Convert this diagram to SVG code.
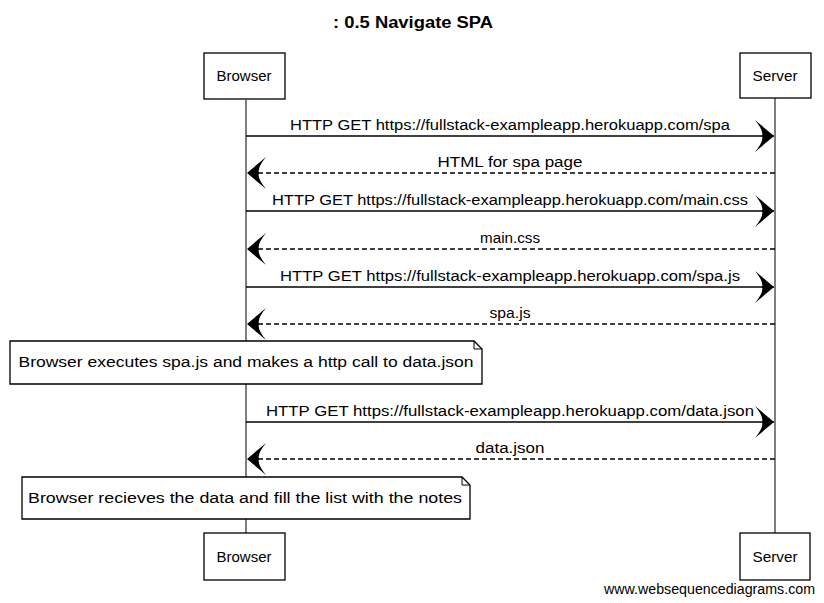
<svg xmlns="http://www.w3.org/2000/svg" width="824" height="603" viewBox="0 0 824 603">
<defs>
<style>
.t{font-family:"Liberation Sans","DejaVu Sans",sans-serif;font-size:14px;fill:#000;text-anchor:middle}
.title{font-family:"Liberation Sans","DejaVu Sans",sans-serif;font-size:16px;font-weight:bold;fill:#000;text-anchor:middle}
.box{fill:#fff;stroke:#000;stroke-width:1.3}
.life{stroke:#000;stroke-width:1;fill:none}
.msg{stroke:#000;stroke-width:1.5;fill:none;marker-end:url(#ah)}
.ret{stroke:#000;stroke-width:1.3;fill:none;stroke-dasharray:5 3;marker-end:url(#ah)}
.wm{font-family:"Liberation Sans",Arial,sans-serif;font-size:14px;fill:#000;text-anchor:end}
</style>
<marker id="ah" markerUnits="userSpaceOnUse" viewBox="-20 -17 21 34" refX="0" refY="0" markerWidth="21" markerHeight="34" orient="auto">
<path d="M0,0 L-19,-16 Q-10,-5 -12,0 Q-10,5 -19,16 Z" fill="#000"/>
</marker>
</defs>
<rect width="824" height="603" fill="#fff"/>
<text class="title" x="413" y="28" textLength="160" lengthAdjust="spacingAndGlyphs">: 0.5 Navigate SPA</text>

<g id="lifelines">
<line class="life" x1="246" y1="100" x2="246" y2="533"/>
<line class="life" x1="775" y1="98" x2="775" y2="533"/>
</g>

<g id="browser-top">
<rect class="box" x="204" y="53" width="81" height="46"/>
<text class="t" x="244" y="81" textLength="55" lengthAdjust="spacingAndGlyphs">Browser</text>
</g>
<g id="server-top">
<rect class="box" x="740" y="53" width="71" height="45"/>
<text class="t" x="775" y="81" textLength="45" lengthAdjust="spacingAndGlyphs">Server</text>
</g>

<g id="connectors">
<line class="msg" x1="246" y1="136" x2="774" y2="136"/>
<text class="t" x="510" y="130" textLength="440" lengthAdjust="spacingAndGlyphs">HTTP GET https://fullstack-exampleapp.herokuapp.com/spa</text>
<line class="ret" x1="775" y1="173" x2="247" y2="173"/>
<text class="t" x="510" y="167" textLength="145" lengthAdjust="spacingAndGlyphs">HTML for spa page</text>
<line class="msg" x1="246" y1="211" x2="774" y2="211"/>
<text class="t" x="510" y="205" textLength="476" lengthAdjust="spacingAndGlyphs">HTTP GET https://fullstack-exampleapp.herokuapp.com/main.css</text>
<line class="ret" x1="775" y1="249" x2="247" y2="249"/>
<text class="t" x="510" y="243" textLength="60" lengthAdjust="spacingAndGlyphs">main.css</text>
<line class="msg" x1="246" y1="287" x2="774" y2="287"/>
<text class="t" x="510" y="281" textLength="460" lengthAdjust="spacingAndGlyphs">HTTP GET https://fullstack-exampleapp.herokuapp.com/spa.js</text>
<line class="ret" x1="775" y1="324" x2="247" y2="324"/>
<text class="t" x="510" y="318" textLength="41" lengthAdjust="spacingAndGlyphs">spa.js</text>
<line class="msg" x1="246" y1="422" x2="774" y2="422"/>
<text class="t" x="510" y="416" textLength="488" lengthAdjust="spacingAndGlyphs">HTTP GET https://fullstack-exampleapp.herokuapp.com/data.json</text>
<line class="ret" x1="775" y1="459" x2="247" y2="459"/>
<text class="t" x="510" y="453" textLength="69" lengthAdjust="spacingAndGlyphs">data.json</text>
</g>

<g id="note1">
<path class="box" d="M10,341 L474,341 L482,349 L482,384 L10,384 Z"/>
<path class="life" d="M474,341 L474,349 L482,349"/>
<text class="t" x="246" y="367" textLength="455" lengthAdjust="spacingAndGlyphs">Browser executes spa.js and makes a http call to data.json</text>
</g>

<g id="note2">
<path class="box" d="M22,477 L462,477 L470,485 L470,519 L22,519 Z"/>
<path class="life" d="M462,477 L462,485 L470,485"/>
<text class="t" x="245" y="503" textLength="434" lengthAdjust="spacingAndGlyphs">Browser recieves the data and fill the list with the notes</text>
</g>

<g id="browser-bottom">
<rect class="box" x="204" y="533" width="81" height="47"/>
<text class="t" x="244" y="562" textLength="55" lengthAdjust="spacingAndGlyphs">Browser</text>
</g>
<g id="server-bottom">
<rect class="box" x="740" y="533" width="70" height="47"/>
<text class="t" x="775" y="562" textLength="45" lengthAdjust="spacingAndGlyphs">Server</text>
</g>

<text class="wm" x="815" y="594" textLength="211" lengthAdjust="spacingAndGlyphs">www.websequencediagrams.com</text>
</svg>
